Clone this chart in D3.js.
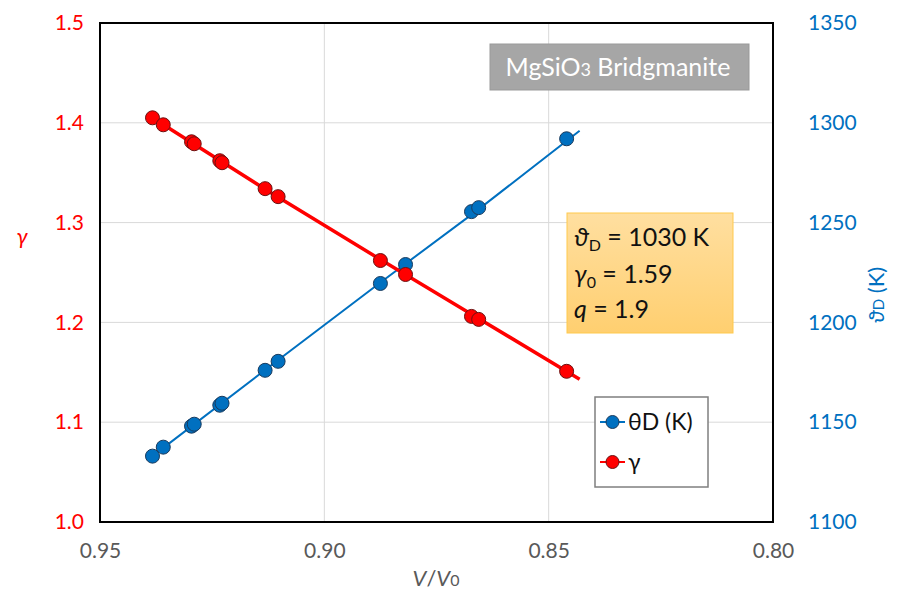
<!DOCTYPE html>
<html><head><meta charset="utf-8">
<script src="https://cdn.jsdelivr.net/npm/d3@7/dist/d3.min.js"></script>
<style>body{margin:0;background:#fff}svg{display:block}text{font-family:Lato,"Open Sans",sans-serif}</style>
</head><body><svg id="c" width="901" height="595"></svg>
<script>
// data
const vRatio = [0.9383, 0.9359, 0.9296, 0.9290, 0.9233, 0.9228, 0.9132, 0.9103, 0.8875, 0.8819, 0.8672, 0.8656, 0.8460];
const gammaVals = [1.405, 1.398, 1.381, 1.379, 1.362, 1.360, 1.334, 1.326, 1.262, 1.248, 1.206, 1.203, 1.151];
const thetaVals = [1133, 1137.5, 1148, 1149, 1158.5, 1159.5, 1176, 1180.5, 1219.5, 1229, 1255.5, 1257.5, 1292];
const modelV = [0.9383, 0.913, 0.8875, 0.866, 0.8431];
const modelGamma = [1.405, 1.333, 1.263, 1.205, 1.143];
const modelTheta = [1133, 1176.5, 1220, 1256, 1296];
const xTicks = [0.95, 0.90, 0.85, 0.80];
const gTicks = [1.0, 1.1, 1.2, 1.3, 1.4, 1.5];
const tTicks = [1100, 1150, 1200, 1250, 1300, 1350];

const svg = d3.select("#c");
const L = 100, R = 773, T = 23, B = 522;
const x = d3.scaleLinear().domain([0.95, 0.80]).range([L, R]);
const yG = d3.scaleLinear().domain([1.0, 1.5]).range([B, T]);
const yT = d3.scaleLinear().domain([1100, 1350]).range([B, T]);
const RED = "#FF0000", BLUE = "#0070C0";

// grid
svg.append("g").selectAll("line").data(gTicks.slice(1, -1)).join("line")
  .attr("x1", L).attr("x2", R).attr("y1", d => yG(d)).attr("y2", d => yG(d))
  .attr("stroke", "#d9d9d9").attr("stroke-width", 1);
svg.append("g").selectAll("line").data(xTicks.slice(1, -1)).join("line")
  .attr("y1", T).attr("y2", B).attr("x1", d => x(d)).attr("x2", d => x(d))
  .attr("stroke", "#d9d9d9").attr("stroke-width", 1);

// axes (tick labels)
const ax = svg.append("g").attr("transform", `translate(0,${B})`)
  .call(d3.axisBottom(x).tickValues(xTicks).tickFormat(d3.format(".2f")).tickSize(0).tickPadding(21));
ax.select(".domain").remove();
ax.selectAll("text").attr("fill", "#595959").attr("font-size", 21);
const al = svg.append("g").attr("transform", `translate(${L},0)`)
  .call(d3.axisLeft(yG).tickValues(gTicks).tickFormat(d3.format(".1f")).tickSize(0).tickPadding(16));
al.select(".domain").remove();
al.selectAll("text").attr("fill", RED).attr("font-size", 21);
const ar = svg.append("g").attr("transform", `translate(${R},0)`)
  .call(d3.axisRight(yT).tickValues(tTicks).tickFormat(d3.format("d")).tickSize(0).tickPadding(35));
ar.select(".domain").remove();
ar.selectAll("text").attr("fill", BLUE).attr("font-size", 21);

// frame
svg.append("rect").attr("x", L).attr("y", T).attr("width", R - L).attr("height", B - T)
  .attr("fill", "none").attr("stroke", "#000").attr("stroke-width", 2);

// axis titles
svg.append("text").attr("x", 22).attr("y", 244).attr("text-anchor", "middle")
  .attr("font-style", "italic").attr("font-size", 22).attr("fill", RED).text("γ");
const tt = svg.append("text").attr("transform", "translate(884,295) rotate(-90)").attr("text-anchor", "middle")
  .attr("font-size", 22).attr("fill", BLUE);
tt.append("tspan").attr("font-style", "italic").text("ϑ");
tt.append("tspan").attr("font-size", 15).text("D");
tt.append("tspan").text(" (K)");
const xt = svg.append("text").attr("x", 436).attr("y", 586).attr("text-anchor", "middle")
  .attr("font-size", 22).attr("fill", "#595959");
xt.append("tspan").attr("font-style", "italic").text("V");
xt.append("tspan").text("/");
xt.append("tspan").attr("font-style", "italic").text("V");
xt.append("tspan").attr("font-size", 16).text("0");

// model lines
const idx = d3.range(modelV.length);
svg.append("path").datum(idx).attr("fill", "none").attr("stroke", BLUE).attr("stroke-width", 2)
  .attr("d", d3.line().x(i => x(modelV[i])).y(i => yT(modelTheta[i])));
svg.append("path").datum(idx).attr("fill", "none").attr("stroke", RED).attr("stroke-width", 3.5)
  .attr("d", d3.line().x(i => x(modelV[i])).y(i => yG(modelGamma[i])));

// points
const pidx = d3.range(vRatio.length);
svg.append("g").selectAll("circle").data(pidx).join("circle")
  .attr("cx", i => x(vRatio[i])).attr("cy", i => yT(thetaVals[i])).attr("r", 7)
  .attr("fill", BLUE).attr("stroke", "#1a3a5c").attr("stroke-width", 1);
svg.append("g").selectAll("circle").data(pidx).join("circle")
  .attr("cx", i => x(vRatio[i])).attr("cy", i => yG(gammaVals[i])).attr("r", 7)
  .attr("fill", RED).attr("stroke", "#6b1010").attr("stroke-width", 1);

// title box
svg.append("rect").attr("x", 490).attr("y", 44).attr("width", 259).attr("height", 46)
  .attr("fill", "#A6A6A6").attr("stroke", "#999").attr("stroke-width", 1);
const tb = svg.append("text").attr("x", 618).attr("y", 76).attr("text-anchor", "middle")
  .attr("font-size", 25).attr("fill", "#fff");
tb.append("tspan").text("MgSiO");
tb.append("tspan").attr("font-size", 18).text("3");
tb.append("tspan").text(" Bridgmanite");

// parameter box
const defs = svg.append("defs");
const gr = defs.append("linearGradient").attr("id", "og").attr("x1", 0).attr("y1", 0).attr("x2", 0).attr("y2", 1);
gr.append("stop").attr("offset", "0%").attr("stop-color", "#FFDFA0");
gr.append("stop").attr("offset", "100%").attr("stop-color", "#FFCF70");
svg.append("rect").attr("x", 567).attr("y", 213).attr("width", 166).attr("height", 120)
  .attr("fill", "url(#og)").attr("stroke", "#FFC94D").attr("stroke-width", 1);
const p1 = svg.append("text").attr("x", 574).attr("y", 246).attr("font-size", 25).attr("fill", "#111");
p1.append("tspan").attr("font-style", "italic").text("ϑ");
p1.append("tspan").attr("font-size", 16).attr("dy", 5).text("D");
p1.append("tspan").attr("dy", -5).text(" = 1030 K");
const p2 = svg.append("text").attr("x", 574).attr("y", 283).attr("font-size", 25).attr("fill", "#111");
p2.append("tspan").attr("font-style", "italic").text("γ");
p2.append("tspan").attr("font-size", 16).attr("dy", 5).text("0");
p2.append("tspan").attr("dy", -5).text(" = 1.59");
const p3 = svg.append("text").attr("x", 574).attr("y", 318).attr("font-size", 25).attr("fill", "#111");
p3.append("tspan").attr("font-style", "italic").text("q");
p3.append("tspan").text(" = 1.9");

// legend
svg.append("rect").attr("x", 595).attr("y", 397).attr("width", 113).attr("height", 90)
  .attr("fill", "#fff").attr("stroke", "#7f7f7f").attr("stroke-width", 1.5);
const leg = [{name: "θD (K)", c: BLUE, s: "#1a3a5c", w: 2, y: 422}, {name: "γ", c: RED, s: "#6b1010", w: 2, y: 462}];
const lg = svg.append("g").selectAll("g").data(leg).join("g");
lg.append("line").attr("x1", 600).attr("x2", 625).attr("y1", d => d.y).attr("y2", d => d.y)
  .attr("stroke", d => d.c).attr("stroke-width", d => d.w);
lg.append("circle").attr("cx", 612.5).attr("cy", d => d.y).attr("r", 6.5)
  .attr("fill", d => d.c).attr("stroke", d => d.s);
lg.append("text").attr("x", 628).attr("y", d => d.y + 8).attr("font-size", 23).attr("fill", "#111").text(d => d.name);
</script></body></html>
